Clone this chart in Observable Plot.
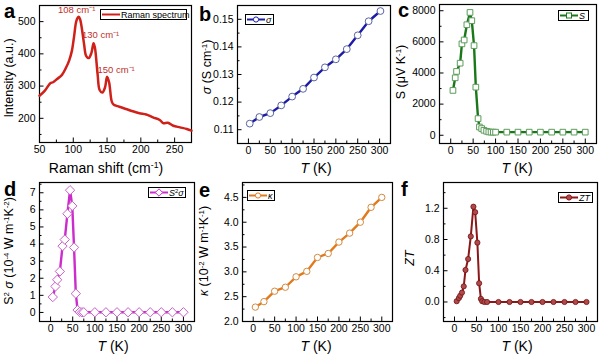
<!DOCTYPE html>
<html><head><meta charset="utf-8">
<script src="https://cdn.jsdelivr.net/npm/d3@7"></script>
<script src="https://cdn.jsdelivr.net/npm/@observablehq/plot@0.6"></script>
<style>
body{margin:0;background:#fff;}
#c{position:relative;width:600px;height:354px;overflow:hidden;font-family:"Liberation Sans",Arial,sans-serif;color:#000;}
#c svg{position:absolute;overflow:visible;}
.lt{position:absolute;font-weight:bold;font-size:20px;line-height:18px;}
.t{position:absolute;white-space:nowrap;line-height:1;}
.yt{font-size:12.5px;transform:translate(-50%,-50%) rotate(-90deg);}
.xt{font-size:14px;transform:translate(-50%,-50%);}
.t sup{font-size:0.62em;line-height:0;vertical-align:0.55em;}
.leg{position:absolute;border:1px solid #000;background:#fff;font-size:9px;display:flex;align-items:center;height:11px;padding:0 2px 0 1px;box-sizing:border-box;white-space:nowrap;}
.leg svg{position:static !important;margin-right:1px;}
.leg sup{font-size:0.65em;line-height:0;vertical-align:0.5em;}
</style></head>
<body><div id="c"></div>
<script>
// ---------- data ----------
// (a) Raman spectrum
const ramanShift = [50, 58, 66, 70, 76, 83, 89, 94, 98, 101, 104, 106, 108, 110, 112, 116, 119, 123, 127, 130, 132, 136, 139, 143, 147, 150, 153, 157, 160, 168, 178, 188, 198, 208, 218, 228, 233, 240, 248, 258, 268, 275];
const ramanIntensity = [270, 286, 309, 312, 322, 334, 356, 380, 410, 451, 497, 510, 515, 508, 488, 430, 394, 387, 404, 433, 420, 337, 288, 280, 296, 329, 312, 252, 242, 236, 229, 222, 216, 212, 203, 195, 185, 186, 177, 172, 167, 162];
const peakShift = [108, 130, 150];
const peakIntensity = [515, 433, 329];
const peakLabel = ["108 cm⁻¹", "130 cm⁻¹", "150 cm⁻¹"];
// (b) electrical conductivity
const tSigma = [3, 25, 50, 75, 100, 125, 150, 175, 200, 225, 250, 275, 302];
const sigma = [0.1122, 0.1146, 0.1160, 0.1188, 0.1220, 0.1248, 0.1289, 0.1326, 0.1355, 0.1392, 0.1442, 0.1493, 0.1530];
// (c) Seebeck coefficient
const tS = [5, 10, 13, 21, 25, 30, 36, 43, 47, 52, 56, 61, 64, 69, 74, 80, 85, 90, 95, 100, 125, 150, 175, 200, 225, 250, 275, 300];
const seebeck = [2880, 3690, 4100, 4630, 5870, 6120, 7100, 7890, 7360, 5760, 3090, 1070, 530, 430, 320, 256, 213, 200, 200, 200, 200, 200, 200, 200, 200, 200, 200, 200];
// (d) power factor
const tPF = [5, 11, 15, 21, 27, 32, 38, 44, 49, 53, 57, 61, 66, 71, 75, 100, 125, 150, 175, 200, 225, 250, 275, 300];
const powerFactor = [0.90, 1.52, 1.91, 2.40, 3.88, 4.26, 5.77, 7.15, 6.23, 3.80, 1.10, 0.14, 0.03, 0.01, 0.01, 0.01, 0.01, 0.01, 0.01, 0.01, 0.01, 0.01, 0.01, 0.01];
// (e) thermal conductivity
const tKappa = [5, 25, 50, 75, 100, 125, 150, 175, 200, 225, 250, 275, 300];
const kappa = [2.29, 2.40, 2.61, 2.69, 2.90, 3.01, 3.29, 3.37, 3.60, 3.78, 4.00, 4.30, 4.50];
// (f) figure of merit
const tZT = [5, 10, 13, 17, 21, 25, 31, 37, 43, 47, 52, 56, 60, 63, 68, 74, 100, 125, 150, 175, 200, 225, 250, 275, 300];
const zt = [0.01, 0.05, 0.08, 0.12, 0.20, 0.41, 0.55, 0.84, 1.22, 1.15, 0.76, 0.24, 0.04, 0.01, 0.00, 0.00, 0.00, 0.00, 0.00, 0.00, 0.00, 0.00, 0.00, 0.00, 0.00];
// ticks
const tTicks = [0, 50, 100, 150, 200, 250, 300];
const tMinor = [-25, 25, 75, 125, 175, 225, 275, 325];

// ---------- helpers ----------
const root = document.getElementById("c");
const zipXY = (xs, ys) => xs.map((x, i) => ({x, y: ys[i]}));

function axes(xT, xM, yT, yM, xF, yF) {
  return [
    Plot.axisX(xM, {tickSize: -2.5, tickFormat: () => "", label: null}),
    Plot.axisY(yM, {tickSize: -2.5, tickFormat: () => "", label: null}),
    Plot.axisX(xT, {tickSize: -4.5, tickPadding: 8, tickFormat: xF, label: null}),
    Plot.axisY(yT, {tickSize: -4.5, tickPadding: 8.5, tickFormat: yF, label: null}),
    Plot.frame({strokeWidth: 1.2})
  ];
}

function place(left, top, cfg, marks) {
  const svg = Plot.plot({
    width: 200, height: 162,
    marginLeft: cfg.ml, marginRight: cfg.mr, marginTop: cfg.mt, marginBottom: cfg.mb,
    x: {domain: cfg.xd}, y: {domain: cfg.yd},
    style: {fontSize: "10.5px", fontFamily: '"Liberation Sans", Arial, sans-serif', background: "transparent", overflow: "visible"},
    marks
  });
  svg.style.left = left + "px";
  svg.style.top = top + "px";
  root.appendChild(svg);
}

function html(cls, x, y, inner) {
  const d = document.createElement("div");
  d.className = cls;
  d.style.left = x + "px";
  d.style.top = y + "px";
  d.innerHTML = inner;
  root.appendChild(d);
}

function legend(x, y, w, color, marker, label, fill) {
  let m = "";
  if (marker === "circle") m = `<circle cx="9" cy="4.5" r="2.6" fill="${fill}" stroke="${color}" stroke-width="1"/>`;
  if (marker === "square") m = `<rect x="6.5" y="2" width="5" height="5" fill="${fill}" stroke="${color}" stroke-width="1"/>`;
  if (marker === "diamond") m = `<path d="M9,0.8L12.7,4.5L9,8.2L5.3,4.5Z" fill="${fill}" stroke="${color}" stroke-width="1"/>`;
  const sw = `<svg width="18" height="9"><line x1="0" y1="4.5" x2="18" y2="4.5" stroke="${color}" stroke-width="2"/>${m}</svg>`;
  const d = document.createElement("div");
  d.className = "leg";
  d.style.left = x + "px"; d.style.top = y + "px"; d.style.width = w + "px";
  d.innerHTML = sw + `<span>${label}</span>`;
  root.appendChild(d);
}

const peaks = peakShift.map((s, i) => ({x: s, y: peakIntensity[i], t: peakLabel[i]}));
const peakText = (i, dx, dy) => Plot.text([peaks[i]], {x: "x", y: "y", text: "t", fill: "#c0302a", fontSize: 9.5, dx, dy});

// ---------- (a) ----------
place(0, 0, {ml: 39, mr: 9, mt: 5, mb: 20, xd: [50, 275], yd: [125, 550]}, [
  ...axes([50, 100, 150, 200, 250], [75, 125, 175, 225, 275], [200, 300, 400, 500], [150, 250, 350, 450], d3.format("d"), d3.format("d")),
  Plot.line(zipXY(ramanShift, ramanIntensity), {x: "x", y: "y", stroke: "#d0201a", strokeWidth: 2.5, curve: "catmull-rom"}),
  peakText(0, -2, -7),
  peakText(1, 7, -8),
  peakText(2, 9, -7)
]);

// ---------- (b) ----------
place(200, 0, {ml: 37, mr: 10, mt: 5, mb: 19, xd: [-25, 325], yd: [0.105, 0.155]}, [
  ...axes(tTicks, tMinor, [0.11, 0.12, 0.13, 0.14, 0.15], [0.105, 0.115, 0.125, 0.135, 0.145, 0.155], d3.format("d"), d3.format(".2f")),
  Plot.line(zipXY(tSigma, sigma), {x: "x", y: "y", stroke: "#1c1ca6", strokeWidth: 2.4}),
  Plot.dot(zipXY(tSigma, sigma), {x: "x", y: "y", r: 3.4, fill: "white", stroke: "#5a64a0", strokeWidth: 1})
]);

// ---------- (c) ----------
place(400, 0, {ml: 39, mr: 4, mt: 4, mb: 19, xd: [-25, 325], yd: [-530, 8400]}, [
  ...axes(tTicks, tMinor, [0, 2000, 4000, 6000, 8000], [1000, 3000, 5000, 7000], d3.format("d"), d3.format("d")),
  Plot.line(zipXY(tS, seebeck), {x: "x", y: "y", stroke: "#1a781a", strokeWidth: 2.4}),
  Plot.dot(zipXY(tS, seebeck), {x: "x", y: "y", symbol: "square", r: 3.2, fill: "white", stroke: "#5c9c5c", strokeWidth: 1})
]);

// ---------- (d) ----------
place(0, 177, {ml: 39, mr: 6, mt: 5, mb: 18, xd: [-25, 325], yd: [-0.53, 7.6]}, [
  ...axes(tTicks, tMinor, [0, 1, 2, 3, 4, 5, 6, 7], [0.5, 1.5, 2.5, 3.5, 4.5, 5.5, 6.5, 7.5], d3.format("d"), d3.format("d")),
  Plot.line(zipXY(tPF, powerFactor), {x: "x", y: "y", stroke: "#cc2ccc", strokeWidth: 2.4}),
  Plot.dot(zipXY(tPF, powerFactor), {x: "x", y: "y", symbol: "diamond2", r: 4.2, fill: "white", stroke: "#c860c8", strokeWidth: 1})
]);

// ---------- (e) ----------
place(200, 177, {ml: 42, mr: 8, mt: 5, mb: 18, xd: [-25, 325], yd: [2.0, 4.8]}, [
  ...axes(tTicks, tMinor, [2.0, 2.5, 3.0, 3.5, 4.0, 4.5], [2.25, 2.75, 3.25, 3.75, 4.25, 4.75], d3.format("d"), d3.format(".1f")),
  Plot.line(zipXY(tKappa, kappa), {x: "x", y: "y", stroke: "#e07a1c", strokeWidth: 2.4}),
  Plot.dot(zipXY(tKappa, kappa), {x: "x", y: "y", r: 3.2, fill: "white", stroke: "#d48a40", strokeWidth: 1})
]);

// ---------- (f) ----------
place(400, 177, {ml: 43, mr: 3, mt: 5, mb: 18, xd: [-25, 325], yd: [-0.25, 1.53]}, [
  ...axes(tTicks, tMinor, [0.0, 0.4, 0.8, 1.2], [-0.2, 0.2, 0.6, 1.0, 1.4], d3.format("d"), d3.format(".1f")),
  Plot.line(zipXY(tZT, zt), {x: "x", y: "y", stroke: "#8a1818", strokeWidth: 2}),
  Plot.dot(zipXY(tZT, zt), {x: "x", y: "y", r: 2.6, fill: "#b04a4a", stroke: "#701212", strokeWidth: 0.8})
]);

// ---------- panel letters ----------
html("lt", 4, 2, "a");
html("lt", 199, 5, "b");
html("lt", 398, 1, "c");
html("lt", 4, 180, "d");
html("lt", 199, 181, "e");
html("lt", 401, 180, "f");

// ---------- axis titles ----------
html("t yt", 9, 78, "Intensity (a.u.)");
html("t yt", 207, 67, "<i>σ</i> (S cm<sup>-1</sup>)");
html("t yt", 401, 72, "S (μV K<sup>-1</sup>)");
html("t yt", 9, 251, "S<sup>2</sup> <i>σ</i> (10<sup>-4</sup> W m<sup>-1</sup>K<sup>-2</sup>)");
html("t yt", 204, 251, "<i>κ</i> (10<sup>-2</sup> W m<sup>-1</sup>K<sup>-1</sup>)");
html("t yt", 410, 258, "<i>ZT</i>");
html("t xt", 106, 168, "Raman shift (cm<sup>-1</sup>)");
html("t xt", 316, 168, "<i>T</i> (K)");
html("t xt", 517, 168, "<i>T</i> (K)");
html("t xt", 113, 346, "<i>T</i> (K)");
html("t xt", 316, 346, "<i>T</i> (K)");
html("t xt", 517, 346, "<i>T</i> (K)");

// ---------- legends ----------
legend(100, 9, 87, "#d0201a", null, "Raman spectrum", "white");
legend(245, 14, 29, "#1c1ca6", "circle", "<i>σ</i>", "white");
legend(558, 10, 31, "#1a781a", "square", "<i>S</i>", "white");
legend(148, 187, 38, "#cc2ccc", "diamond", "<i>S</i><sup>2</sup><i>σ</i>", "white");
legend(247, 190, 28, "#e07a1c", "circle", "<i>κ</i>", "white");
legend(558, 192, 35, "#8a1818", "circle", "<i>ZT</i>", "#b04a4a");
</script></body></html>
